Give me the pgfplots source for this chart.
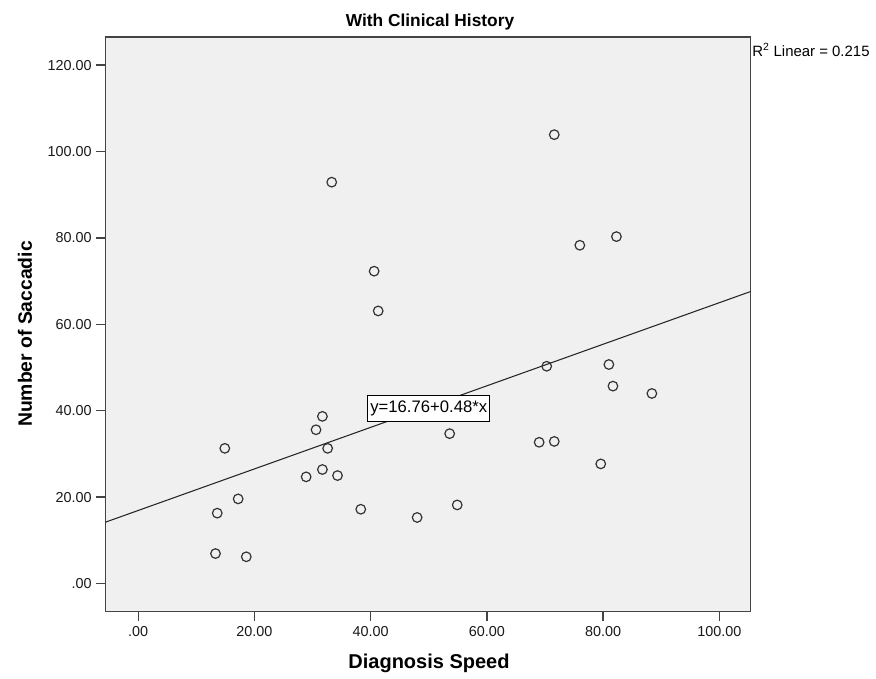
\documentclass[border=0pt]{standalone}
\usepackage{pgfplots}
\pgfplotsset{compat=1.18}
\usepackage{fontspec}
\setmainfont{Liberation Sans}
\definecolor{plotbg}{HTML}{F0F0F0}
\definecolor{framec}{HTML}{444444}
\definecolor{markc}{HTML}{333333}
\begin{document}
\begin{tikzpicture}[x=0.75pt,y=0.75pt]
\path[use as bounding box] (0,0) rectangle (876,679);
\begin{axis}[
  at={(79pt,50.5pt)}, anchor=south west,
  scale only axis, width=484pt, height=431pt,
  xmin=-5.66, xmax=105.4, ymin=-6.5, ymax=126.5,
  axis background/.style={fill=plotbg},
  axis line style={framec, line width=1.1pt},
  tick style={framec, line width=1pt},
  tick align=outside, tick pos=left,
  major tick length=6.8pt,
  xtick={0,20,40,60,80,100},
  xticklabels={.00,20.00,40.00,60.00,80.00,100.00},
  ytick={0,20,40,60,80,100,120},
  yticklabels={.00,20.00,40.00,60.00,80.00,100.00,120.00},
  /pgf/number format/assume math mode=true,
  ticklabel style={font=\fontsize{10.8}{12}\selectfont, text=black!90},
  xticklabel style={yshift=-0.5pt},
  yticklabel style={xshift=0pt},
  clip=true,
]
\addplot[black!85, line width=0.8pt] coordinates {(-5.66,14.2) (105.4,67.6)};
\addplot[only marks, mark=o, mark size=3.6pt, mark options={markc, line width=0.9pt}] coordinates {
(40.6,72.3) (41.3,63.1) (70.3,50.3) (81.0,50.7) (81.7,45.7) (88.4,44.0)
(31.7,38.7) (30.6,35.6) (53.6,34.7) (69.0,32.7) (71.6,32.9) (14.9,31.3)
(32.6,31.3) (79.6,27.7) (31.7,26.4) (28.9,24.7) (34.3,25.0) (17.2,19.6)
(13.6,16.3) (38.3,17.2) (48.0,15.3) (54.9,18.2) (33.3,92.9) (71.6,103.9)
(76.0,78.3) (82.3,80.3) (13.3,6.95) (18.6,6.2)
};
\node[draw=black, fill=white, line width=0.8pt, inner xsep=2pt, inner ysep=4pt, font=\fontsize{12.5}{14}\selectfont] at (axis cs:50,40.5) {y=16.76+0.48*x};
\end{axis}
\node[font=\bfseries\fontsize{13}{15}\selectfont] at (430,657) {With Clinical History};
\node[font=\bfseries\fontsize{14.5}{16}\selectfont, rotate=90] at (25,345) {Number of Saccadic};
\node[font=\bfseries\fontsize{15}{17}\selectfont] at (429,16) {Diagnosis Speed};
\node[anchor=west, inner sep=0pt, font=\fontsize{11.2}{13}\selectfont] at (752,629) {R\textsuperscript{2} Linear = 0.215};
\end{tikzpicture}
\end{document}
